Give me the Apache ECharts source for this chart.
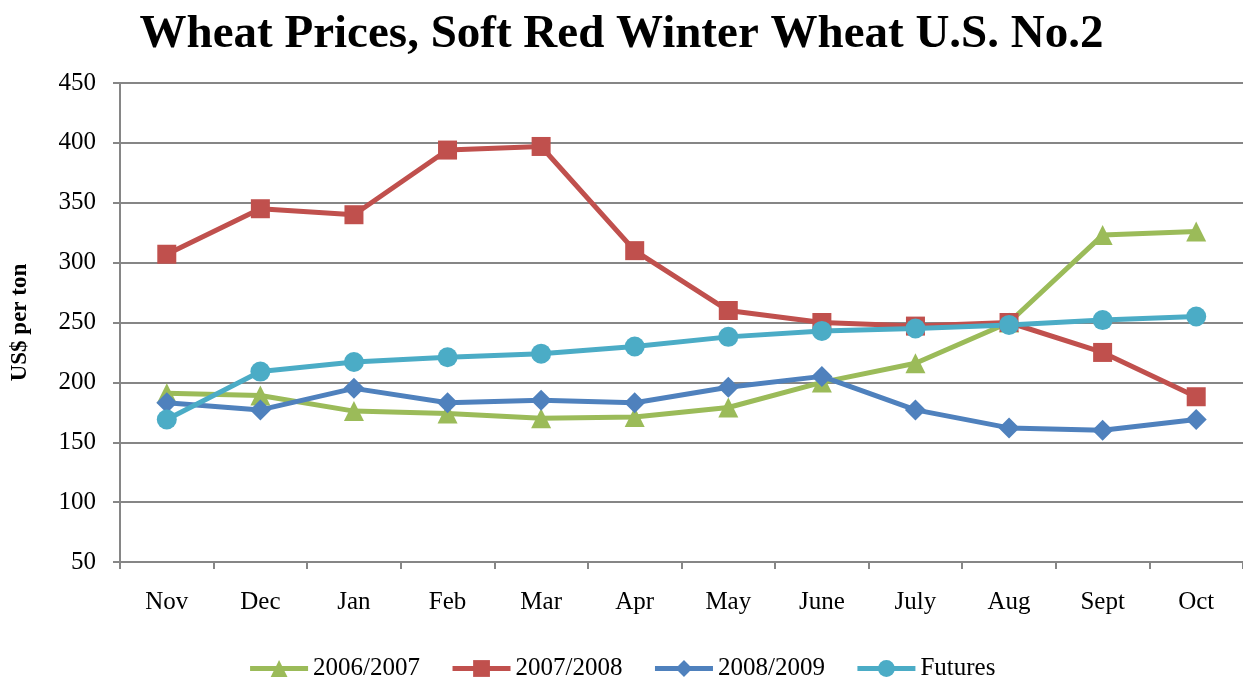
<!DOCTYPE html>
<html>
<head>
<meta charset="utf-8">
<script src="https://cdn.jsdelivr.net/npm/echarts@6/dist/echarts.min.js"></script>
<style>
  html, body { margin: 0; padding: 0; background: #fff; }
  #main { width: 1243px; height: 679px; }
</style>
</head>
<body>
<div id="main"></div>
<script>
// values (US$ per ton)
var months = ['Nov', 'Dec', 'Jan', 'Feb', 'Mar', 'Apr', 'May', 'June', 'July', 'Aug', 'Sept', 'Oct'];
var y2006 = [191, 189, 176, 174, 170, 171, 179, 200, 216, 250, 323, 326];
var y2007 = [307, 345, 340, 394, 397, 310, 260, 250, 247, 250, 225, 188];
var y2008 = [183, 177, 195, 183, 185, 183, 196, 205, 177, 162, 160, 169];
var futures = [169, 209, 217, 221, 224, 230, 238, 243, 245, 248, 252, 255];

var font = 'Liberation Serif';

function makeSeries(name, data, color, symbol, size) {
  return {
    name: name,
    type: 'line',
    data: data,
    symbol: symbol,
    symbolSize: size,
    lineStyle: { color: color, width: 5 },
    itemStyle: { color: color },
    emphasis: { disabled: true }
  };
}

var chartDom = document.getElementById('main');
var myChart = echarts.init(chartDom);
var option;

option = {
  animation: false,
  textStyle: { fontFamily: font },
  title: {
    text: 'Wheat Prices, Soft Red Winter Wheat U.S. No.2',
    left: 'center',
    top: 6,
    textStyle: { fontFamily: font, fontSize: 47, fontWeight: 'bold', color: '#000' }
  },
  grid: { left: 120, top: 83, width: 1129, height: 479 },
  legend: {
    top: 651,
    left: 'center',
    itemWidth: 58,
    itemHeight: 21,
    itemGap: 30,
    lineStyle: { width: 5 },
    textStyle: { fontFamily: font, fontSize: 25, color: '#000' },
    data: ['2006/2007', '2007/2008', '2008/2009', 'Futures']
  },
  xAxis: {
    type: 'category',
    data: months,
    boundaryGap: true,
    axisLine: { lineStyle: { color: '#868686', width: 2 } },
    axisTick: { show: true, length: 7, lineStyle: { color: '#868686', width: 2 } },
    axisLabel: { fontFamily: font, fontSize: 25, color: '#000', margin: 28 }
  },
  yAxis: {
    type: 'value',
    min: 50,
    max: 450,
    interval: 50,
    name: 'US$ per ton',
    nameLocation: 'middle',
    nameGap: 88,
    nameTextStyle: { fontFamily: font, fontSize: 23, fontWeight: 'bold', color: '#000' },
    axisLine: { show: true, lineStyle: { color: '#868686', width: 2 } },
    axisTick: { show: true, length: 7, lineStyle: { color: '#868686', width: 2 } },
    axisLabel: { fontFamily: font, fontSize: 25, color: '#000', margin: 24 },
    splitLine: { lineStyle: { color: '#868686', width: 2 } }
  },
  series: [
    makeSeries('2006/2007', y2006, '#9BBB59', 'triangle', 20),
    makeSeries('2007/2008', y2007, '#C0504D', 'rect', 19),
    makeSeries('2008/2009', y2008, '#4F81BD', 'diamond', 21),
    makeSeries('Futures', futures, '#4BACC6', 'circle', 20)
  ]
};

option && myChart.setOption(option);
</script>
</body>
</html>
